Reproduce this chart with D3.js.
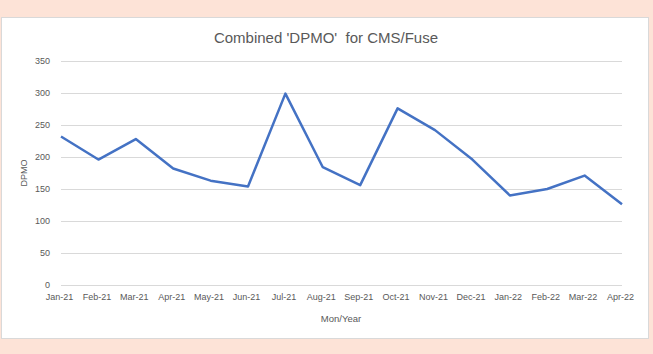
<!DOCTYPE html>
<html lang="en">
<head>
    <meta charset="UTF-8">
    <title>Combined DPMO for CMS/Fuse</title>
    <script src="https://d3js.org/d3.v7.min.js"></script>
    <style>
        body { margin: 0; background: #fde3d7; font-family: "Liberation Sans", Arial, sans-serif; }
        .grid line { stroke: #d9d9d9; }
        .axis path, .axis line { display: none; }
        .axis text { fill: #595959; font-size: 9px; }
    </style>
</head>
<body>
    <script>
        // Chart data
        const months = ['Jan-21', 'Feb-21', 'Mar-21', 'Apr-21', 'May-21', 'Jun-21', 'Jul-21', 'Aug-21',
                        'Sep-21', 'Oct-21', 'Nov-21', 'Dec-21', 'Jan-22', 'Feb-22', 'Mar-22', 'Apr-22'];
        const dpmo = [232, 196, 228, 182, 163, 154, 299, 184, 156, 276, 242, 196, 140, 150, 171, 126];
        const yTicks = [0, 50, 100, 150, 200, 250, 300, 350];

        const W = 653, H = 354;
        const margin = {top: 61, right: 31, bottom: 69, left: 61};
        const width = W - margin.left - margin.right,
              height = H - margin.top - margin.bottom;

        const root = d3.select('body').append('svg')
            .attr('width', W)
            .attr('height', H);

        // white chart panel
        root.append('rect')
            .attr('x', 1.5).attr('y', 17.5)
            .attr('width', 647).attr('height', 321)
            .attr('fill', '#fff')
            .attr('stroke', '#d9d9d9');

        root.append('text')
            .attr('x', 326).attr('y', 43)
            .attr('text-anchor', 'middle')
            .attr('fill', '#595959')
            .style('font-size', '15px')
            .style('white-space', 'pre')
            .text("Combined 'DPMO'  for CMS/Fuse");

        const svg = root.append('g')
            .attr('transform', `translate(${margin.left},${margin.top})`);

        const x = d3.scalePoint().domain(months).range([0, width]);
        const y = d3.scaleLinear().domain([0, 350]).range([height, 0]);

        // gridlines
        svg.append('g').attr('class', 'grid')
            .selectAll('line').data(yTicks).enter().append('line')
            .attr('x1', 0).attr('x2', width)
            .attr('y1', d => y(d) + 0.5).attr('y2', d => y(d) + 0.5);

        svg.append('g')
            .attr('class', 'axis')
            .call(d3.axisLeft(y).tickValues(yTicks).tickSize(0).tickPadding(11));

        svg.append('g')
            .attr('class', 'axis')
            .attr('transform', `translate(0,${height})`)
            .call(d3.axisBottom(x).tickSize(0).tickPadding(9))
            .selectAll('text').attr('dx', '-2');

        const line = d3.line()
            .x((d, i) => x(months[i]))
            .y(d => y(d));

        svg.append('path')
            .datum(dpmo)
            .attr('fill', 'none')
            .attr('stroke', '#4472c4')
            .attr('stroke-width', 2.5)
            .attr('stroke-linejoin', 'round')
            .attr('d', line);

        // axis titles
        root.append('text')
            .attr('transform', 'translate(27,173) rotate(-90)')
            .attr('text-anchor', 'middle')
            .attr('fill', '#595959')
            .style('font-size', '9px')
            .text('DPMO');

        root.append('text')
            .attr('x', 341).attr('y', 322)
            .attr('text-anchor', 'middle')
            .attr('fill', '#595959')
            .style('font-size', '9.5px')
            .text('Mon/Year');
    </script>
</body>
</html>
